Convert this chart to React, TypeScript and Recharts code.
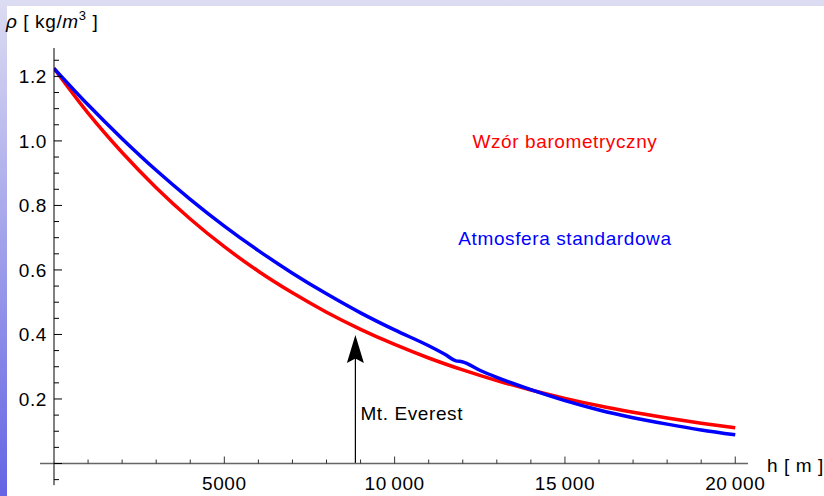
import React from 'react';
import { LineChart, Line, XAxis, YAxis, ReferenceLine, ReferenceDot } from 'recharts';

// Barometric formula (red)
const heightsBarometric = [0, 1000, 2000, 3000, 4000, 5000, 6000, 7000, 8000, 9000, 10000, 11000, 12000, 13000, 14000, 15000, 16000, 17000, 18000, 19000, 20000];
const densityBarometric = [1.225, 1.086, 0.964, 0.855, 0.758, 0.672, 0.596, 0.529, 0.469, 0.416, 0.369, 0.327, 0.290, 0.257, 0.228, 0.202, 0.179, 0.159, 0.141, 0.125, 0.111];

// Standard atmosphere (blue)
const heightsStandard = [0, 1000, 2000, 3000, 4000, 5000, 6000, 7000, 8000, 9000, 10000, 11000, 11500, 11800, 11980, 12500, 13000, 14000, 15000, 16000, 17000, 18000, 19000, 20000];
const densityStandard = [1.225, 1.112, 1.007, 0.909, 0.819, 0.736, 0.660, 0.590, 0.526, 0.467, 0.414, 0.365, 0.337, 0.318, 0.3155, 0.289, 0.267, 0.229, 0.195, 0.166, 0.142, 0.122, 0.104, 0.089];

const seriesNames = ['Wzór barometryczny', 'Atmosfera standardowa'];

const xMajorTicks = [5000, 10000, 15000, 20000];
const xMajorLabels = ['5000', '10\u2009000', '15\u2009000', '20\u2009000'];
const xMinorTicks = [1000, 2000, 3000, 4000, 6000, 7000, 8000, 9000, 11000, 12000, 13000, 14000, 16000, 17000, 18000, 19000];

const yMajorTicks = [0, 0.2, 0.4, 0.6, 0.8, 1.0, 1.2];
const yMajorLabels = ['', '0.2', '0.4', '0.6', '0.8', '1.0', '1.2'];
const yMinorTicks = [0.05, 0.1, 0.15, 0.25, 0.3, 0.35, 0.45, 0.5, 0.55, 0.65, 0.7, 0.75, 0.85, 0.9, 0.95, 1.05, 1.1, 1.15, 1.25];

const everestHeight = 8848;
const everestArrowTip = 0.398;
const everestShaftTop = 0.33;
const everestLabel = 'Mt. Everest';
const everestLabelY = 0.135;

const xDomain = [0, 20374];
const yDomain = [0, 1.288];
const xAxisLeftEnd = -411;
const yAxisBottomEnd = -0.067;
const yBelowMinorTick = -0.05;

const labelPositions = [
  { x: 15000, y: 0.978 },
  { x: 15000, y: 0.677 },
];
const colors = ['#ff0000', '#0000ff'];

const FONT = '"Liberation Sans", Arial, sans-serif';
const FS = 19;
const LS = 0.6;

const barometricData = heightsBarometric.map((h, i) => ({ h, rho: densityBarometric[i] }));
const standardData = heightsStandard.map((h, i) => ({ h, rho: densityStandard[i] }));

const XTick = (props: any) => {
  const { x, y, payload } = props;
  const idx = xMajorTicks.indexOf(payload.value);
  const major = idx >= 0;
  return (
    <g>
      <line x1={x} x2={x} y1={y} y2={y - (major ? 7 : 4)} stroke="#333" strokeWidth={1} />
      {major && (
        <text x={x} y={y + 26.5} textAnchor="middle" fontFamily={FONT} fontSize={FS} letterSpacing={LS} fill="#000">
          {xMajorLabels[idx]}
        </text>
      )}
    </g>
  );
};

const YTick = (props: any) => {
  const { x, y, payload } = props;
  const idx = yMajorTicks.findIndex((v) => Math.abs(v - payload.value) < 1e-9);
  const major = idx >= 0;
  return (
    <g>
      <line x1={x} x2={x + (major ? 8 : 5)} y1={y} y2={y} stroke="#000" strokeWidth={1} />
      {major && yMajorLabels[idx] && (
        <text x={x - 7} y={y} dy="0.36em" textAnchor="end" fontFamily={FONT} fontSize={FS} letterSpacing={LS} fill="#000">
          {yMajorLabels[idx]}
        </text>
      )}
    </g>
  );
};

const ArrowHead = (props: any) => {
  const { cx, cy } = props;
  return (
    <polygon
      points={`${cx},${cy} ${cx + 8.5},${cy + 28} ${cx},${cy + 23.5} ${cx - 8.5},${cy + 28}`}
      fill="#000"
    />
  );
};

const makeTextShape = (text: string, color: string, anchor: string, dx: number) => (props: any) => {
  const { cx, cy } = props;
  return (
    <text x={cx + dx} y={cy} textAnchor={anchor} fontFamily={FONT} fontSize={FS} letterSpacing={LS} fill={color}>
      {text}
    </text>
  );
};

export default function App() {
  return (
    <div
      style={{
        position: 'fixed',
        left: 0,
        top: 0,
        width: 824,
        height: 496,
        background: 'linear-gradient(180deg, #dcdcf2 0%, #6464e4 100%)',
        overflow: 'hidden',
      }}
    >
      <div style={{ position: 'absolute', left: 7, top: 6, right: 0, bottom: 0, background: '#ffffff' }} />
      <div style={{ position: 'absolute', left: 0, top: 0 }}>
        <LineChart width={824} height={496} margin={{ top: 48, right: 76, bottom: 31.5, left: 53 }}>
          <XAxis
            type="number"
            dataKey="h"
            domain={xDomain}
            ticks={[...xMinorTicks, ...xMajorTicks]}
            interval={0}
            height={1}
            tickSize={0}
            tickMargin={0}
            tickLine={false}
            axisLine={{ stroke: '#666', strokeWidth: 1.5 }}
            tick={<XTick />}
            allowDataOverflow
          />
          <YAxis
            type="number"
            dataKey="rho"
            domain={yDomain}
            ticks={[...yMinorTicks, ...yMajorTicks]}
            interval={0}
            width={1}
            tickSize={0}
            tickMargin={0}
            tickLine={false}
            axisLine={{ stroke: '#000', strokeWidth: 1 }}
            tick={<YTick />}
            allowDataOverflow
          />
          <ReferenceLine
            segment={[{ x: xAxisLeftEnd, y: 0 }, { x: 0, y: 0 }]}
            stroke="#666"
            strokeWidth={1.5}
            ifOverflow="visible"
          />
          <ReferenceLine
            segment={[{ x: 0, y: yAxisBottomEnd }, { x: 0, y: 0 }]}
            stroke="#000"
            strokeWidth={1}
            ifOverflow="visible"
          />
          <ReferenceLine
            segment={[{ x: 0, y: yBelowMinorTick }, { x: 147, y: yBelowMinorTick }]}
            stroke="#000"
            strokeWidth={1}
            ifOverflow="visible"
          />
          <Line
            data={barometricData}
            dataKey="rho"
            name={seriesNames[0]}
            type="monotone"
            stroke={colors[0]}
            strokeWidth={3.5}
            dot={false}
            isAnimationActive={false}
          />
          <Line
            data={standardData}
            dataKey="rho"
            name={seriesNames[1]}
            type="monotone"
            stroke={colors[1]}
            strokeWidth={3.5}
            dot={false}
            isAnimationActive={false}
          />
          <ReferenceLine
            segment={[{ x: everestHeight, y: 0 }, { x: everestHeight, y: everestShaftTop }]}
            stroke="#000"
            strokeWidth={1.2}
            ifOverflow="visible"
          />
          <ReferenceDot x={everestHeight} y={everestArrowTip} r={0} shape={<ArrowHead />} ifOverflow="visible" />
          <ReferenceDot
            x={everestHeight}
            y={everestLabelY}
            r={0}
            shape={makeTextShape(everestLabel, '#000', 'start', 5)}
            ifOverflow="visible"
          />
          <ReferenceDot
            x={labelPositions[0].x}
            y={labelPositions[0].y}
            r={0}
            shape={makeTextShape(seriesNames[0], colors[0], 'middle', 0)}
            ifOverflow="visible"
          />
          <ReferenceDot
            x={labelPositions[1].x}
            y={labelPositions[1].y}
            r={0}
            shape={makeTextShape(seriesNames[1], colors[1], 'middle', 0)}
            ifOverflow="visible"
          />
        </LineChart>
      </div>
      <svg width={824} height={496} style={{ position: 'absolute', left: 0, top: 0, pointerEvents: 'none' }}>
        <text x={6} y={27.5} fontFamily={FONT} fontSize={FS} letterSpacing={LS} fill="#000">
          <tspan fontStyle="italic">ρ</tspan>
          <tspan>{' [ kg/'}</tspan>
          <tspan fontStyle="italic">m</tspan>
          <tspan fontSize={13} dy={-8}>3</tspan>
          <tspan dy={8}>{' ]'}</tspan>
        </text>
        <text x={767} y={471.5} fontFamily={FONT} fontSize={FS} letterSpacing={LS} fill="#000">
          h [ m ]
        </text>
      </svg>
    </div>
  );
}
